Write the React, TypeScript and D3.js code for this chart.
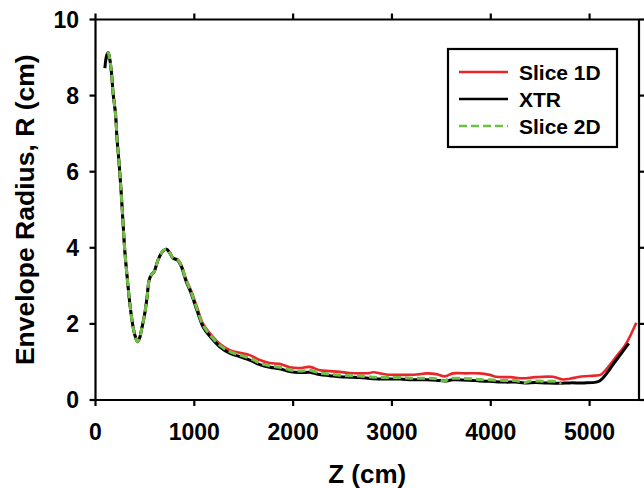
import React from "react";
import * as d3 from "d3";

type Pt = [number, number];

// Slice 1D (red)
const slice1D: Pt[] = [
  [110, 8.95], [128, 9.13], [145, 8.95], [162, 8.59], [178, 8.06], [202, 7.53], [219, 6.83], [236, 6.31],
  [256, 5.61], [279, 4.64], [296, 3.94], [320, 3.24], [347, 2.54], [374, 2.02], [398, 1.71], [425, 1.53],
  [445, 1.62], [465, 1.84], [499, 2.28], [522, 2.71], [543, 3.15], [566, 3.29], [593, 3.37], [633, 3.68],
  [678, 3.90], [718, 3.97], [752, 3.88], [785, 3.74], [829, 3.70], [870, 3.54], [913, 3.20], [971, 2.85],
  [1030, 2.42], [1089, 2.00], [1156, 1.76], [1257, 1.48], [1359, 1.31], [1460, 1.24], [1561, 1.18], [1662, 1.05],
  [1763, 0.97], [1864, 0.95], [1965, 0.86], [2066, 0.84], [2168, 0.87], [2270, 0.78], [2370, 0.76], [2472, 0.74],
  [2572, 0.71], [2674, 0.70], [2775, 0.71], [2808, 0.73], [2943, 0.67], [3112, 0.66], [3250, 0.67], [3348, 0.70],
  [3450, 0.68], [3534, 0.62], [3618, 0.70], [3750, 0.70], [3887, 0.70], [3988, 0.66], [4056, 0.61], [4200, 0.60],
  [4325, 0.57], [4450, 0.60], [4629, 0.61], [4730, 0.54], [4800, 0.56], [4899, 0.61], [5051, 0.64], [5110, 0.66],
  [5160, 0.78], [5220, 0.97], [5270, 1.14], [5371, 1.49], [5472, 2.03],
];

// XTR (black)
const xtr: Pt[] = [
  [95, 8.72], [112, 9.05], [128, 9.13], [145, 8.95], [162, 8.59], [178, 8.06], [202, 7.53], [219, 6.83],
  [236, 6.31], [256, 5.61], [279, 4.64], [296, 3.94], [320, 3.24], [347, 2.54], [374, 2.02], [398, 1.71],
  [425, 1.53], [445, 1.62], [465, 1.84], [499, 2.28], [522, 2.71], [543, 3.15], [566, 3.29], [593, 3.37],
  [633, 3.68], [678, 3.90], [718, 3.96], [752, 3.86], [785, 3.72], [829, 3.68], [870, 3.50], [913, 3.15],
  [971, 2.78], [1030, 2.33], [1089, 1.92], [1156, 1.68], [1257, 1.40], [1359, 1.23], [1460, 1.14], [1561, 1.05],
  [1662, 0.93], [1763, 0.86], [1864, 0.82], [1965, 0.75], [2066, 0.72], [2168, 0.73], [2270, 0.67], [2370, 0.64],
  [2472, 0.61], [2572, 0.60], [2674, 0.59], [2808, 0.56], [2943, 0.55], [3080, 0.55], [3213, 0.53], [3348, 0.53],
  [3450, 0.52], [3534, 0.50], [3618, 0.53], [3786, 0.52], [3887, 0.50], [3988, 0.49], [4150, 0.47], [4250, 0.47],
  [4342, 0.45], [4450, 0.46], [4550, 0.45], [4696, 0.44], [4800, 0.45], [4950, 0.45], [5067, 0.47], [5100, 0.50],
  [5135, 0.58], [5185, 0.74], [5236, 0.93], [5320, 1.22], [5397, 1.49],
];

// Slice 2D (green dashed)
const slice2D: Pt[] = [
  [120, 9.10], [128, 9.13], [145, 8.95], [162, 8.59], [178, 8.06], [202, 7.53], [219, 6.83], [236, 6.31],
  [256, 5.61], [279, 4.64], [296, 3.94], [320, 3.24], [347, 2.54], [374, 2.02], [398, 1.71], [425, 1.53],
  [445, 1.62], [465, 1.84], [499, 2.28], [522, 2.71], [543, 3.15], [566, 3.29], [593, 3.37], [633, 3.68],
  [678, 3.90], [718, 3.97], [752, 3.87], [785, 3.73], [829, 3.69], [870, 3.52], [913, 3.18], [971, 2.81],
  [1030, 2.37], [1089, 1.96], [1156, 1.72], [1257, 1.44], [1359, 1.27], [1460, 1.18], [1561, 1.10], [1662, 0.97],
  [1763, 0.90], [1864, 0.86], [1965, 0.79], [2066, 0.76], [2168, 0.78], [2270, 0.71], [2370, 0.68], [2472, 0.65],
  [2572, 0.64], [2674, 0.63], [2808, 0.60], [2943, 0.59], [3080, 0.59], [3213, 0.57], [3348, 0.57], [3450, 0.56],
  [3534, 0.50], [3580, 0.56], [3786, 0.56], [3887, 0.54], [3988, 0.53], [4150, 0.51], [4250, 0.51], [4342, 0.46],
  [4400, 0.50], [4550, 0.49], [4650, 0.49], [4696, 0.45], [4713, 0.46],
];

const xTicks = [0, 1000, 2000, 3000, 4000, 5000];
const yTicks = [0, 2, 4, 6, 8, 10];

const seriesNames = ["Slice 1D", "XTR", "Slice 2D"];
const seriesColors = ["#e8262b", "#000000", "#6dbf45"];

const W = 644;
const H = 489;
const FONT = "'Liberation Sans', Arial, sans-serif";

export default function App() {
  const x = d3.scaleLinear().domain([0, 5500]).range([95.5, 639]);
  const y = d3.scaleLinear().domain([0, 10]).range([400, 19.5]);
  const line = d3
    .line<Pt>()
    .x((d) => x(d[0]))
    .y((d) => y(d[1]))
    .curve(d3.curveCatmullRom.alpha(0.5));

  const x0 = x(0);
  const x1 = x(5500);
  const y0 = y(0);
  const y1 = y(10);
  const tk = 6;

  const legendX = 448;
  const legendY = 49;
  const rowYs = [72, 99, 126];

  return (
    <svg
      width={W}
      height={H}
      style={{ position: "absolute", left: 0, top: 0, background: "#fff" }}
      fontFamily={FONT}
    >
      <rect x={0} y={0} width={W} height={H} fill="#fff" />
      {/* data lines */}
      <path d={line(slice1D) || ""} fill="none" stroke={seriesColors[0]} strokeWidth={2.6} />
      <path d={line(xtr) || ""} fill="none" stroke={seriesColors[1]} strokeWidth={3} />
      <path
        d={line(slice2D) || ""}
        fill="none"
        stroke={seriesColors[2]}
        strokeWidth={3}
        strokeDasharray="8,4"
      />

      {/* frame */}
      <g stroke="#000" strokeWidth={2.2} fill="none">
        <line x1={x0} y1={y1} x2={x0} y2={y0} />
        <line x1={x0} y1={y0} x2={x1} y2={y0} />
        <line x1={x0} y1={y1} x2={x1} y2={y1} />
        <line x1={x1} y1={y1} x2={x1} y2={y0} />
        {xTicks.map((t) => (
          <g key={"xt" + t}>
            <line x1={x(t)} x2={x(t)} y1={y0} y2={y0 + tk} />
            <line x1={x(t)} x2={x(t)} y1={y1} y2={y1 - tk} />
          </g>
        ))}
        {yTicks.map((t) => (
          <g key={"yt" + t}>
            <line x1={x0} x2={x0 - tk} y1={y(t)} y2={y(t)} />
            <line x1={x1} x2={x1 + tk} y1={y(t)} y2={y(t)} />
          </g>
        ))}
      </g>

      {/* tick labels */}
      <g fontWeight="bold" fontSize={23} fill="#000">
        {xTicks.map((t) => (
          <text key={"xl" + t} x={x(t)} y={439.5} textAnchor="middle">
            {t}
          </text>
        ))}
        {yTicks.map((t) => (
          <text key={"yl" + t} x={79} y={y(t)} textAnchor="end" dominantBaseline="central">
            {t}
          </text>
        ))}
      </g>

      {/* axis titles */}
      <text
        x={(x0 + x1) / 2}
        y={483}
        textAnchor="middle"
        fontWeight="bold"
        fontSize={26}
      >
        Z (cm)
      </text>
      <text
        transform={`translate(24.5,${(y0 + y1) / 2}) rotate(-90)`}
        textAnchor="middle"
        dominantBaseline="central"
        fontWeight="bold"
        fontSize={26.5}
      >
        Envelope Radius, R (cm)
      </text>

      {/* legend */}
      <rect x={legendX} y={legendY} width={169} height={98} fill="#fff" stroke="#000" strokeWidth={2.2} />
      {seriesNames.map((name, i) => (
        <g key={name}>
          <line
            x1={459}
            x2={508}
            y1={rowYs[i]}
            y2={rowYs[i]}
            stroke={seriesColors[i]}
            strokeWidth={2.6}
            strokeDasharray={i === 2 ? "8,4" : undefined}
          />
          <text x={519} y={rowYs[i]} dominantBaseline="central" fontWeight="bold" fontSize={21}>
            {name}
          </text>
        </g>
      ))}
    </svg>
  );
}
